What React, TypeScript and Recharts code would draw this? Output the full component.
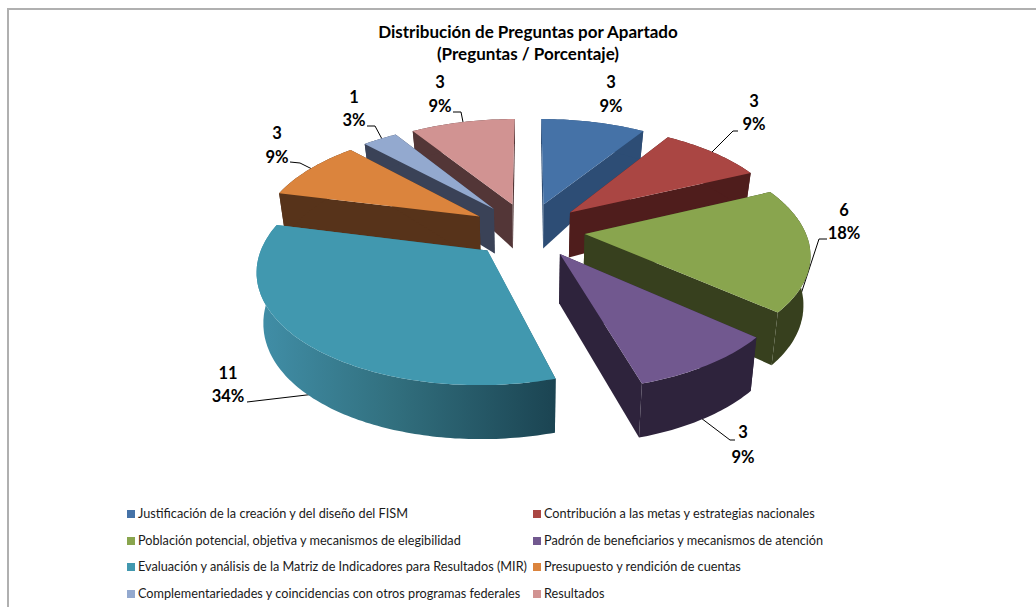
import { Pie, PieChart } from "recharts";

const names = [
  "Justificación de la creación y del diseño del FISM",
  "Contribución a las metas y estrategias nacionales",
  "Población potencial, objetiva y mecanismos de elegibilidad",
  "Padrón de beneficiarios y mecanismos de atención",
  "Evaluación y análisis de la Matriz de Indicadores para Resultados (MIR)",
  "Presupuesto y rendición de cuentas",
  "Complementariedades y coincidencias con otros programas federales",
  "Resultados",
];
const values = [3, 3, 6, 3, 11, 3, 1, 3];
const percents = ["9%", "9%", "18%", "9%", "34%", "9%", "3%", "9%"];
const colors = ["#4572a7", "#aa4643", "#89a54e", "#71588f", "#4198af", "#db843d", "#93a9cf", "#d19392"];
const wallColors = ["#2d4d75", "#4f1d1c", "#37401e", "#2e233c", "url(#tealWall)", "#57331a", "#3a4257", "#533637"];

// back to front, the pie is painted by hand so slices overlap correctly
const drawOrder = [0, 1, 2, 3, 7, 6, 5, 4];

const slices = names.map((name, i) => ({ name, value: values[i], fill: colors[i] }));

// label layout: [x, y of number, y of percent]
const labelPos = [
  [611, 88, 112],
  [754, 107, 130],
  [844, 216, 239],
  [743, 438, 463],
  [228, 379, 402],
  [277, 139, 163],
  [354, 103, 126],
  [440, 88, 112],
];
const leaders = [
  "",
  "712,152 733,131 738,131",
  "800,297 819,239 827,239",
  "701,418 730,440 735,440",
  "247,402 315,394",
  "290,162 300,163 312,169",
  "367,126 375,126 382,139",
  "453,112 461,112 463,122",
];

const EXPLODE = 57;
const PERSPECTIVE = 1400;
const TILT = 0.483;

function project(cx: number, cy: number, X: number, Y: number) {
  const s = 1 / (1 - Y / PERSPECTIVE);
  return [cx + X * s, cy + TILT * Y * s];
}

function dropWall(cx: number, X: number, Y: number, top: number[]) {
  const h = 54 - 1e-4 * (264 - Y) * (264 - Y);
  return [cx + (top[0] - cx) * 0.975, top[1] + h];
}

const toPath = (pts: number[][]) =>
  "M" + pts.map((p) => `${p[0].toFixed(1)},${p[1].toFixed(1)}`).join("L") + "Z";

function sliceShape(layer: number) {
  return (props: any) => {
    const { cx, cy, outerRadius, startAngle, endAngle, name } = props;
    if (name !== names[layer]) return <g />;
    const rad = Math.PI / 180;
    // recharts angles run counter-clockwise from 3 o'clock, here 0 is 12 o'clock
    const from = 90 - startAngle;
    const to = 90 - endAngle;
    const mid = ((from + to) / 2) * rad;
    const ox = EXPLODE * Math.sin(mid);
    const oy = -EXPLODE * Math.cos(mid);

    const top = (deg: number, r: number) => {
      const X = ox + r * Math.sin(deg * rad);
      const Y = oy - r * Math.cos(deg * rad);
      const p = project(cx, cy, X, Y);
      return { p, b: dropWall(cx, X, Y, p) };
    };

    const apex = top(from, 0);
    const arc: { p: number[]; b: number[] }[] = [];
    const steps = Math.max(8, Math.ceil(to - from));
    for (let i = 0; i <= steps; i++) arc.push(top(from + ((to - from) * i) / steps, outerRadius));
    const first = arc[0];
    const last = arc[arc.length - 1];

    const wall = wallColors[layer];
    return (
      <g>
        <path d={toPath([apex.p, first.p, first.b, apex.b])} fill={wall} />
        <path d={toPath([apex.p, last.p, last.b, apex.b])} fill={wall} />
        <path d={toPath([...arc.map((a) => a.p), ...arc.map((a) => a.b).reverse()])} fill={wall} />
        <path d={toPath([apex.p, ...arc.map((a) => a.p)])} fill={colors[layer]} />
      </g>
    );
  };
}

function LegendGrid() {
  return (
    <div style={{ position: "absolute", left: 127, top: 500, width: 760, fontFamily: "Lato", fontSize: 12.7, color: "#1a1a1a" }}>
      {names.map((name, i) => (
        <div
          key={name}
          style={{
            position: "absolute",
            left: i % 2 ? 406 : 0,
            top: Math.floor(i / 2) * 26.7,
            height: 26,
            lineHeight: "26px",
            whiteSpace: "nowrap",
          }}
        >
          <span style={{ display: "inline-block", width: 8, height: 8, marginRight: 3, background: colors[i] }} />
          {name}
        </div>
      ))}
    </div>
  );
}

export default function App() {
  return (
    <div style={{ position: "absolute", left: 0, top: 0, width: 1036, height: 607, overflow: "hidden", background: "#fff" }}>
      <div style={{ position: "absolute", left: 7, top: 8, width: 1100, height: 700, border: "2px solid #b0b0b0" }} />
      <PieChart width={1036} height={607} margin={{ top: 0, right: 0, bottom: 0, left: 0 }}>
        <defs>
          <linearGradient id="tealWall" x1="0" y1="0" x2="1" y2="0">
            <stop offset="0%" stopColor="#418fa8" />
            <stop offset="45%" stopColor="#32707f" />
            <stop offset="100%" stopColor="#1b4452" />
          </linearGradient>
        </defs>
        {drawOrder.map((layer) => {
          const shape = sliceShape(layer);
          return (
            <Pie
              key={layer}
              data={slices}
              dataKey="value"
              nameKey="name"
              cx={528}
              cy={230}
              outerRadius={220}
              startAngle={90}
              endAngle={-270}
              stroke="none"
              shape={shape}
              activeShape={shape}
              inactiveShape={shape}
              isAnimationActive={false}
            />
          );
        })}
        <text x={528} y={38} textAnchor="middle" fontFamily="Lato" fontWeight={700} fontSize={17} fill="#000">
          Distribución de Preguntas por Apartado
        </text>
        <text x={528} y={60} textAnchor="middle" fontFamily="Lato" fontWeight={700} fontSize={17} fill="#000">
          (Preguntas / Porcentaje)
        </text>
        {values.map((v, i) => (
          <g key={i} fontFamily="Lato" fontWeight={700} fontSize={16.5} fill="#000" textAnchor="middle">
            <text x={labelPos[i][0]} y={labelPos[i][1]}>{v}</text>
            <text x={labelPos[i][0]} y={labelPos[i][2]}>{percents[i]}</text>
            {leaders[i] && <polyline points={leaders[i]} fill="none" stroke="#000" strokeWidth={1} />}
          </g>
        ))}
      </PieChart>
      <LegendGrid />
    </div>
  );
}
